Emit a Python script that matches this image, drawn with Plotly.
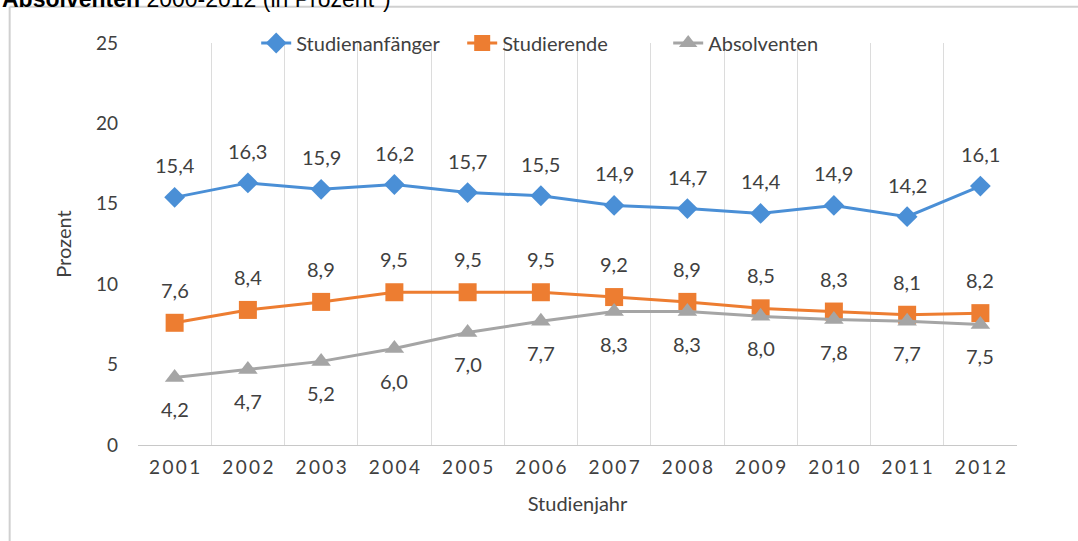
import plotly.graph_objects as go

# Data
years = ["2001", "2002", "2003", "2004", "2005", "2006",
         "2007", "2008", "2009", "2010", "2011", "2012"]
anfaenger = [15.4, 16.3, 15.9, 16.2, 15.7, 15.5, 14.9, 14.7, 14.4, 14.9, 14.2, 16.1]
studierende = [7.6, 8.4, 8.9, 9.5, 9.5, 9.5, 9.2, 8.9, 8.5, 8.3, 8.1, 8.2]
absolventen = [4.2, 4.7, 5.2, 6.0, 7.0, 7.7, 8.3, 8.3, 8.0, 7.8, 7.7, 7.5]
y_ticks = [0, 5, 10, 15, 20, 25]

font_family = "Lato, 'Open Sans', sans-serif"
label_color = "#404040"

series = [
    ("Studienanfänger", anfaenger, "#4A8FD6", "diamond", 16, 32),
    ("Studierende", studierende, "#ED7D31", "square", 18, 33),
    ("Absolventen", absolventen, "#A5A5A5", "triangle-up", 17, -32),
]

fig = go.Figure()

for name, values, color, symbol, msize, shift in series:
    fig.add_trace(go.Scatter(
        x=years, y=values, name=name, mode="lines+markers",
        line=dict(color=color, width=3),
        marker=dict(symbol=symbol, size=msize, color=color),
    ))
    # data labels above (or below) each point; category axis -> use index
    for i, v in enumerate(values):
        fig.add_annotation(
            x=i, y=v, yshift=shift, text=f"{v:.1f}".replace(".", ","),
            showarrow=False, xanchor="center", yanchor="middle",
            font=dict(size=20, color=label_color, family=font_family),
        )

# spaced-out year labels like the original
spaced_years = ["\u2009".join(y) for y in years]

fig.update_xaxes(
    type="category", tickvals=years, ticktext=spaced_years,
    tickson="boundaries", showgrid=True, gridcolor="#DCDCDC", gridwidth=1,
    showline=True, linecolor="#C8C8C8", linewidth=1, ticks="",
    range=[-0.5, 11.5], ticklabelstandoff=5,
    tickfont=dict(size=19, color=label_color, family=font_family),
    title=dict(text="Studienjahr", font=dict(size=20, color=label_color), standoff=20),
)
fig.update_yaxes(
    range=[0, 25], tickvals=y_ticks, showgrid=False, zeroline=False,
    showline=False, ticks="", ticklabelstandoff=19,
    tickfont=dict(size=19, color=label_color, family=font_family),
    title=dict(text="Prozent", font=dict(size=20, color=label_color), standoff=18),
)

fig.update_layout(
    width=1078, height=541,
    margin=dict(l=138, r=61, t=43, b=96),
    paper_bgcolor="white", plot_bgcolor="white",
    font=dict(family=font_family, color=label_color),
    showlegend=True,
    legend=dict(orientation="h", x=0.486, y=1.0, xanchor="center", yanchor="middle",
                entrywidth=161, entrywidthmode="pixels",
                font=dict(size=20, color=label_color), bgcolor="rgba(255,255,255,0)"),
)

# cropped title above the frame
fig.add_annotation(
    text="<b>Absolventen</b> 2000-2012 (in Prozent*)",
    xref="paper", yref="paper", x=-0.157, y=1.072,
    xanchor="left", yanchor="bottom", showarrow=False,
    font=dict(size=23, color="black", family="Liberation Sans, Arial, sans-serif"),
)

# outer frame lines (top and left edges visible)
fig.add_shape(type="line", xref="paper", yref="paper",
              x0=-0.146, x1=1.08, y0=1.09, y1=1.09,
              line=dict(color="#D0D0D0", width=2))
fig.add_shape(type="line", xref="paper", yref="paper",
              x0=-0.146, x1=-0.146, y0=1.09, y1=-0.25,
              line=dict(color="#D0D0D0", width=2))

# drop the default page margin so the figure sits at the window's corner
fig.write_html("out.html", config={"displayModeBar": False},
               post_script="document.body.style.margin='0';")
